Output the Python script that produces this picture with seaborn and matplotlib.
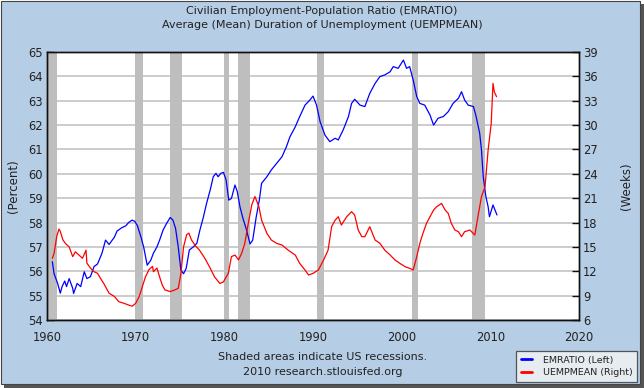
import matplotlib
matplotlib.use("Agg")
import matplotlib.pyplot as plt
from matplotlib.patches import Rectangle
from matplotlib.lines import Line2D
import seaborn as sns
import pandas as pd

# ---------------- data ----------------
emr_year = [1960.6, 1960.8, 1961.2, 1961.5, 1961.7, 1962.0, 1962.2, 1962.5, 1962.9, 1963.0,
            1963.4, 1963.8, 1964.2, 1964.5, 1964.9, 1965.3, 1965.7, 1966.2, 1966.6, 1967.0,
            1967.6, 1967.9, 1968.4, 1968.9, 1969.2, 1969.6, 1969.9, 1970.2, 1970.6, 1970.9,
            1971.3, 1971.7, 1972.0, 1972.4, 1972.7, 1973.1, 1973.5, 1973.9, 1974.2, 1974.5,
            1974.8, 1975.1, 1975.4, 1975.7, 1976.05, 1976.5, 1976.9, 1977.25, 1977.6, 1978.0,
            1978.4, 1978.75, 1979.05, 1979.3, 1979.6, 1979.9, 1980.2, 1980.5, 1980.8, 1981.2,
            1981.46, 1981.76, 1982.1, 1982.5, 1982.9, 1983.2, 1983.6, 1983.95, 1984.2, 1984.8,
            1985.3, 1985.9, 1986.5, 1987.0, 1987.4, 1988.0, 1988.5, 1989.1, 1989.65, 1990.0,
            1990.4, 1990.8, 1991.35, 1991.9, 1992.5, 1992.85, 1993.4, 1994.0, 1994.35, 1994.7,
            1995.3, 1995.85, 1996.4, 1997.0, 1997.55, 1998.1, 1998.7, 1999.05, 1999.6, 2000.2,
            2000.55, 2000.9, 2001.3, 2001.7, 2002.05, 2002.6, 2003.2, 2003.6, 2004.1, 2004.7,
            2005.25, 2005.8, 2006.4, 2006.75, 2007.1, 2007.5, 2008.1, 2008.4, 2008.8, 2009.0,
            2009.2, 2009.5, 2009.75, 2009.9, 2010.3, 2010.75]
emr_value = [56.39, 55.9, 55.5, 55.1, 55.37, 55.6, 55.37, 55.7, 55.3, 55.09,
             55.5, 55.37, 55.98, 55.7, 55.78, 56.19, 56.3, 56.74, 57.28, 57.1,
             57.4, 57.65, 57.78, 57.87, 58.0, 58.1, 58.05, 57.87, 57.4, 57.0,
             56.25, 56.45, 56.74, 57.0, 57.28, 57.7, 57.97, 58.21, 58.1, 57.76,
             57.0, 56.05, 55.9, 56.12, 56.87, 57.0, 57.15, 57.7, 58.17, 58.79,
             59.33, 59.88, 60.02, 59.88, 60.02, 60.06, 59.75, 58.92, 58.99, 59.54,
             59.27, 58.65, 58.17, 57.7, 57.12, 57.28, 58.24, 58.93, 59.61, 59.88,
             60.16, 60.43, 60.7, 61.11, 61.52, 61.93, 62.35, 62.82, 63.03, 63.19,
             62.82, 62.14, 61.59, 61.32, 61.46, 61.39, 61.8, 62.35, 62.89, 63.06,
             62.82, 62.76, 63.3, 63.71, 63.99, 64.06, 64.19, 64.4, 64.33, 64.67,
             64.33, 64.4, 63.85, 63.17, 62.89, 62.82, 62.41, 62.0, 62.28, 62.35,
             62.55, 62.89, 63.1, 63.37, 63.03, 62.82, 62.76, 62.35, 61.66, 60.98,
             59.88, 59.06, 58.65, 58.24, 58.72, 58.31]

uemp_year = [1960.6, 1960.8, 1961.1, 1961.35, 1961.5, 1961.8, 1962.1, 1962.5, 1962.9, 1963.2,
             1963.6, 1964.0, 1964.4, 1964.5, 1964.9, 1965.3, 1965.7, 1966.05, 1966.4, 1967.0,
             1967.6, 1968.1, 1968.7, 1969.2, 1969.6, 1970.0, 1970.4, 1970.75, 1971.1, 1971.5,
             1971.9, 1972.0, 1972.4, 1972.7, 1973.0, 1973.3, 1973.9, 1974.4, 1974.8, 1975.1,
             1975.4, 1975.75, 1976.0, 1976.3, 1976.7, 1977.2, 1977.8, 1978.4, 1978.9, 1979.5,
             1979.9, 1980.45, 1980.8, 1981.2, 1981.6, 1981.95, 1982.3, 1982.7, 1983.1, 1983.45,
             1983.6, 1983.9, 1984.2, 1984.8, 1985.3, 1985.9, 1986.5, 1987.2, 1988.0, 1988.5,
             1989.1, 1989.5, 1990.0, 1990.6, 1991.2, 1991.7, 1992.1, 1992.5, 1992.85, 1993.2,
             1993.8, 1994.35, 1994.7, 1995.1, 1995.5, 1995.85, 1996.4, 1997.0, 1997.55, 1998.1,
             1998.7, 1999.25, 1999.8, 2000.4, 2000.9, 2001.3, 2001.7, 2002.05, 2002.4, 2002.8,
             2003.2, 2003.6, 2003.95, 2004.5, 2004.9, 2005.25, 2005.6, 2006.0, 2006.4, 2006.75,
             2007.1, 2007.7, 2008.25, 2008.6, 2009.0, 2009.4, 2009.75, 2010.1, 2010.3, 2010.45,
             2010.7]
uemp_value = [13.6, 14.2, 16.3, 17.2, 16.9, 15.85, 15.4, 15.0, 13.8, 14.4,
              14.0, 13.6, 14.6, 13.0, 12.4, 11.95, 11.75, 11.1, 10.5, 9.3,
              8.9, 8.25, 8.05, 7.84, 7.7, 8.05, 8.9, 10.1, 11.3, 12.2,
              12.6, 11.95, 12.4, 11.3, 10.3, 9.7, 9.5, 9.7, 9.9, 11.7,
              15.0, 16.5, 16.7, 15.85, 15.2, 14.6, 13.6, 12.4, 11.3, 10.5,
              10.7, 11.75, 13.8, 14.0, 13.4, 14.2, 15.4, 17.9, 20.2, 21.2,
              20.8, 19.95, 18.3, 16.67, 15.85, 15.44, 15.23, 14.6, 14.0, 12.97,
              12.15, 11.54, 11.74, 12.15, 13.39, 14.6, 17.49, 18.3, 18.72, 17.69,
              18.72, 19.34, 18.93, 17.08, 16.26, 16.26, 17.49, 15.85, 15.44, 14.6,
              14.0, 13.39, 12.97, 12.56, 12.36, 12.15, 13.8, 15.44, 16.67, 17.9,
              18.72, 19.54, 19.95, 20.36, 19.54, 19.13, 17.9, 17.08, 16.87, 16.26,
              16.87, 17.08, 16.46, 18.72, 21.18, 22.4, 26.93, 30.2, 35.14, 34.1,
              33.5]

recession_start = [1960.0, 1969.9, 1973.85, 1980.0, 1981.5, 1990.5, 2001.2, 2007.9]
recession_end = [1961.1, 1970.85, 1975.2, 1980.5, 1982.85, 1991.2, 2001.85, 2009.45]

left_ticks = [54, 55, 56, 57, 58, 59, 60, 61, 62, 63, 64, 65]
right_ticks = [6, 9, 12, 15, 18, 21, 24, 27, 30, 33, 36, 39]
x_ticks = [1960, 1970, 1980, 1990, 2000, 2010, 2020]

title_lines = ["Civilian Employment-Population Ratio (EMRATIO)",
               "Average (Mean) Duration of Unemployment (UEMPMEAN)"]
footer_lines = ["Shaded areas indicate US recessions.", "2010 research.stlouisfed.org"]
legend_labels = ["EMRATIO (Left)", "UEMPMEAN (Right)"]

# ---------------- style ----------------
sns.set_style("white")
plt.rcParams["font.family"] = ["DejaVu Sans"]
BG = "#B5CDE5"
TXT = "#222222"

W, H = 644, 388
fig = plt.figure(figsize=(W / 100, H / 100), dpi=100)
fig.patch.set_facecolor("white")

# frame: shadow + blue panel
fig.patches.append(Rectangle((4 / W, 0), 1 - 4 / W, 1 - 4 / H, transform=fig.transFigure,
                             facecolor="#555555", edgecolor="none", zorder=-10))
fig.patches.append(Rectangle((0.5 / W, 4 / H), 1 - 5 / W, 1 - 4.5 / H, transform=fig.transFigure,
                             facecolor=BG, edgecolor="#444444", linewidth=0.8, zorder=-9))

ax = fig.add_axes([47 / W, 1 - 320 / H, (579 - 47) / W, (320 - 52) / H])
ax.set_facecolor("white")

for s, e in zip(recession_start, recession_end):
    ax.axvspan(s, e, color="#BEBEBE", lw=0, zorder=1)

df_emr = pd.DataFrame({"year": emr_year, "value": emr_value})
df_uemp = pd.DataFrame({"year": uemp_year, "value": uemp_value})

sns.lineplot(data=df_emr, x="year", y="value", ax=ax, color="#0000FF", lw=0.9, zorder=3,
             legend=False)
ax.set_xlim(1960, 2020)
ax.set_ylim(54, 65)
ax.set_yticks(left_ticks)
ax.set_xticks(x_ticks)
ax.yaxis.grid(True, color="#C8C8C8", lw=1.3, zorder=0)
ax.set_axisbelow(True)
ax.xaxis.grid(False)
ax.set_xlabel("")
ax.set_ylabel("(Percent)", fontsize=8.5, color=TXT, labelpad=6)

ax2 = ax.twinx()
sns.lineplot(data=df_uemp, x="year", y="value", ax=ax2, color="#FF0000", lw=0.9, zorder=3,
             legend=False)
ax2.set_ylim(6, 39)
ax2.set_yticks(right_ticks)
ax2.set_xlim(1960, 2020)
ax2.grid(False)
ax2.set_xlabel("")
ax2.set_ylabel("(Weeks)", fontsize=8.5, color=TXT, labelpad=16)

for a in (ax, ax2):
    a.tick_params(direction="in", length=5, width=1, colors="#111111",
                  labelcolor=TXT, labelsize=8.3, pad=3)
    for sp in a.spines.values():
        sp.set_color("#111111")
        sp.set_linewidth(1.0)
        sp.set_visible(True)
ax.tick_params(axis="x", pad=8)

fig.text(0.5, 1 - 11 / H, title_lines[0], ha="center", va="center", fontsize=8, color=TXT)
fig.text(0.5, 1 - 25 / H, title_lines[1], ha="center", va="center", fontsize=8, color=TXT)
fig.text(323 / W, 1 - 357 / H, footer_lines[0], ha="center", va="center", fontsize=8, color=TXT)
fig.text(323 / W, 1 - 372 / H, footer_lines[1], ha="center", va="center", fontsize=8, color=TXT)

handles = [Line2D([], [], color="#0000FF", lw=2), Line2D([], [], color="#FF0000", lw=2)]
leg = fig.legend(handles, legend_labels, loc="lower right",
                 bbox_to_anchor=(637 / W, 1 - 382 / H), bbox_transform=fig.transFigure,
                 fontsize=6.8, frameon=True, fancybox=False, handlelength=1.2,
                 handletextpad=1.1, borderpad=0.5, labelspacing=0.4, borderaxespad=0.0)
leg.get_frame().set_facecolor("#F4F4F4")
leg.get_frame().set_edgecolor("#333333")
leg.get_frame().set_linewidth(0.9)
for t in leg.get_texts():
    t.set_color(TXT)

fig.savefig("out.png", dpi=100, facecolor=fig.get_facecolor())
